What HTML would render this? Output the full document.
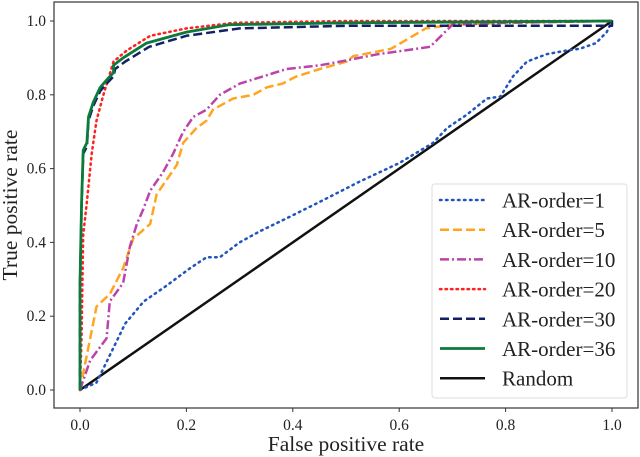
<!DOCTYPE html>
<html><head><meta charset="utf-8"><style>
html,body{margin:0;padding:0;background:#fff;}
svg{display:block;font-family:"Liberation Serif",serif;}
</style></head>
<body>
<svg id="chart" width="640" height="457" viewBox="0 0 640 457" xmlns="http://www.w3.org/2000/svg">
<rect x="0" y="0" width="640" height="457" fill="#fff"/>
<g id="ticks"></g>
<g id="series"></g>
<rect x="54" y="2" width="584" height="406" fill="none" stroke="#333" stroke-width="1.2"/>
<text x="346" y="451" font-size="21.5" text-anchor="middle" fill="#222">False positive rate</text>
<text transform="translate(17,205) rotate(-90)" font-size="21.5" text-anchor="middle" fill="#222">True positive rate</text>
<g id="legend">
<rect x="432" y="184" width="195" height="214" rx="3" fill="#fff" fill-opacity="0.85" stroke="#ddd" stroke-width="1"/>
</g>
</svg>
<script>
const ticksX = [0, 0.2, 0.4, 0.6, 0.8, 1.0];
const ticksY = [0, 0.2, 0.4, 0.6, 0.8, 1.0];
const tickLabels = ["0.0", "0.2", "0.4", "0.6", "0.8", "1.0"];
const seriesNames = ["AR-order=1","AR-order=5","AR-order=10","AR-order=20","AR-order=30","AR-order=36","Random"];
const ar1X = [0,0.031,0.085,0.12,0.16,0.207,0.238,0.263,0.30,0.338,0.395,0.451,0.526,0.60,0.664,0.69,0.727,0.765,0.79,0.814,0.84,0.877,0.915,0.94,0.97,0.99,1];
const ar1Y = [0,0.02,0.18,0.24,0.28,0.33,0.36,0.36,0.40,0.43,0.47,0.51,0.565,0.615,0.67,0.71,0.746,0.79,0.795,0.85,0.89,0.91,0.92,0.925,0.94,0.97,1];
const ar5X = [0,0.006,0.031,0.056,0.081,0.1,0.132,0.144,0.163,0.182,0.194,0.219,0.238,0.25,0.288,0.326,0.351,0.38,0.407,0.451,0.501,0.514,0.551,0.585,0.65,0.7,0.8,1];
const ar5Y = [0,0.045,0.226,0.26,0.33,0.41,0.45,0.53,0.57,0.61,0.67,0.71,0.73,0.76,0.79,0.80,0.82,0.83,0.85,0.87,0.89,0.905,0.915,0.925,0.98,0.99,0.995,1];
const ar10X = [0,0.019,0.05,0.056,0.081,0.094,0.107,0.119,0.132,0.156,0.175,0.194,0.213,0.238,0.263,0.30,0.344,0.388,0.451,0.489,0.56,0.61,0.658,0.70,0.8,1];
const ar10Y = [0,0.08,0.14,0.24,0.29,0.39,0.45,0.49,0.54,0.59,0.64,0.70,0.74,0.76,0.80,0.83,0.85,0.87,0.88,0.89,0.91,0.92,0.93,0.99,0.995,1];
const ar20X = [0,0.003,0.006,0.013,0.022,0.031,0.044,0.063,0.088,0.132,0.2,0.29,0.5,1];
const ar20Y = [0,0.15,0.42,0.51,0.64,0.73,0.80,0.89,0.92,0.96,0.98,0.995,1,1];
const ar30X = [0,0,0.003,0.006,0.013,0.016,0.025,0.038,0.05,0.063,0.066,0.085,0.13,0.2,0.3,0.5,1,1];
const ar30Y = [0,0.28,0.5,0.64,0.66,0.73,0.77,0.81,0.83,0.85,0.87,0.89,0.93,0.96,0.98,0.987,0.987,1];
const ar36X = [0,0,0.003,0.006,0.013,0.016,0.025,0.038,0.05,0.063,0.063,0.081,0.125,0.2,0.28,0.5,1];
const ar36Y = [0,0.29,0.51,0.65,0.67,0.74,0.78,0.82,0.84,0.86,0.88,0.90,0.94,0.97,0.99,0.995,1];
const randX = [0,1];
const randY = [0,1];

const NS="http://www.w3.org/2000/svg";
const xs = v => 80 + v*532;
const ys = v => 390 - v*369;
const ticksG=document.getElementById('ticks');
ticksX.forEach((t,i)=>{
  const l=document.createElementNS(NS,'line');
  l.setAttribute('x1',xs(t));l.setAttribute('x2',xs(t));l.setAttribute('y1',408);l.setAttribute('y2',412);
  l.setAttribute('stroke','#333');
  
  
  ticksG.appendChild(l);
  const tx=document.createElementNS(NS,'text');
  tx.setAttribute('x',xs(t));tx.setAttribute('y',430);tx.setAttribute('font-size','15.5');tx.setAttribute('text-anchor','middle');tx.setAttribute('fill','#222');
  tx.textContent=tickLabels[i];
  
  
  ticksG.appendChild(tx);
});
ticksY.forEach((t,i)=>{
  const l=document.createElementNS(NS,'line');
  l.setAttribute('x1',50);l.setAttribute('x2',54);l.setAttribute('y1',ys(t));l.setAttribute('y2',ys(t));
  l.setAttribute('stroke','#333');
  
  
  ticksG.appendChild(l);
  const tx=document.createElementNS(NS,'text');
  tx.setAttribute('x',46);tx.setAttribute('y',ys(t)+5);tx.setAttribute('font-size','15.5');tx.setAttribute('text-anchor','end');tx.setAttribute('fill','#222');
  tx.textContent=tickLabels[i];
  
  
  ticksG.appendChild(tx);
});
const styles=[
  {c:'#2255bb',d:'1.5 4.5',cap:'round',w:2.5},
  {c:'#ffa520',d:'9 4',cap:'butt',w:2.5},
  {c:'#bb44aa',d:'9 3 2 3',cap:'butt',w:2.5},
  {c:'#ff2020',d:'1.5 4',cap:'round',w:2.5},
  {c:'#151f66',d:'9 4',cap:'butt',w:2.5},
  {c:'#0b7a3a',d:'',cap:'butt',w:2.8},
  {c:'#111',d:'',cap:'butt',w:2.5}
];
const data=[[ar1X,ar1Y],[ar5X,ar5Y],[ar10X,ar10Y],[ar20X,ar20Y],[ar30X,ar30Y],[ar36X,ar36Y],[randX,randY]];
const order=[6,0,1,2,3,4,5];
const sg=document.getElementById('series');
order.forEach(i=>{
  const [X,Y]=data[i];const s=styles[i];
  const p=document.createElementNS(NS,'polyline');
  p.setAttribute('points',X.map((x,k)=>xs(x).toFixed(1)+','+ys(Y[k]).toFixed(1)).join(' '));
  p.setAttribute('fill','none');p.setAttribute('stroke',s.c);p.setAttribute('stroke-width',s.w);
  if(s.d)p.setAttribute('stroke-dasharray',s.d);
  p.setAttribute('stroke-linecap',s.cap);p.setAttribute('stroke-linejoin','round');
  
  
  sg.appendChild(p);
});
const lg=document.getElementById('legend');
seriesNames.forEach((n,i)=>{
  const y=200+i*29.7;const s=styles[i];
  const l=document.createElementNS(NS,'line');
  l.setAttribute('x1',440);l.setAttribute('x2',485);l.setAttribute('y1',y);l.setAttribute('y2',y);
  l.setAttribute('stroke',s.c);l.setAttribute('stroke-width',s.w);
  if(s.d)l.setAttribute('stroke-dasharray',s.d);
  l.setAttribute('stroke-linecap',s.cap);
  
  
  lg.appendChild(l);
  const t=document.createElementNS(NS,'text');
  t.setAttribute('x',502);t.setAttribute('y',y+7.5);t.setAttribute('font-size','21');t.setAttribute('fill','#222');
  t.textContent=n;
  
  
  lg.appendChild(t);
});
</script>
</body></html>
